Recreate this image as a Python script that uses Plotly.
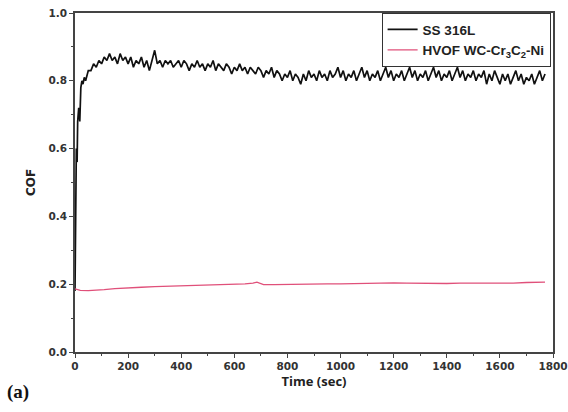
import plotly.graph_objects as go

# SS 316L COF vs time (sec)
ss_time = [0, 2, 5, 8, 10, 14, 18, 22, 26, 30, 35, 40, 50] + list(range(60, 1771, 10))
ss_cof = [0.18, 0.55, 0.60, 0.56, 0.68, 0.72, 0.68, 0.78, 0.80, 0.79, 0.81, 0.80, 0.83,
          0.83, 0.85, 0.84, 0.86, 0.85, 0.87, 0.86, 0.88, 0.86, 0.87, 0.85, 0.88, 0.86, 0.87, 0.85,
          0.87, 0.84, 0.86, 0.85, 0.87, 0.84, 0.86, 0.83, 0.86, 0.89, 0.85, 0.86, 0.84, 0.86, 0.85,
          0.86, 0.84, 0.85, 0.86, 0.84, 0.86, 0.85, 0.83, 0.85, 0.84, 0.86, 0.84, 0.85, 0.83, 0.85,
          0.84, 0.86, 0.83, 0.85, 0.84, 0.83, 0.85, 0.84, 0.82, 0.84, 0.83, 0.85, 0.83, 0.84, 0.82,
          0.84, 0.83, 0.82, 0.84, 0.83, 0.81, 0.83, 0.82, 0.84, 0.81, 0.83, 0.82, 0.80, 0.82, 0.81,
          0.83, 0.80, 0.82, 0.81, 0.79, 0.82, 0.80, 0.83, 0.81, 0.82, 0.80, 0.83, 0.81, 0.82, 0.80,
          0.83, 0.81, 0.82, 0.84, 0.81, 0.83, 0.80, 0.82, 0.81, 0.83, 0.80, 0.82, 0.84, 0.81, 0.83,
          0.80, 0.82, 0.81, 0.83, 0.80, 0.82, 0.84, 0.81, 0.83, 0.80, 0.82, 0.81, 0.83, 0.80, 0.82,
          0.84, 0.81, 0.83, 0.80, 0.82, 0.81, 0.83, 0.80, 0.82, 0.84, 0.81, 0.83, 0.80, 0.82, 0.81,
          0.83, 0.80, 0.82, 0.84, 0.81, 0.83, 0.80, 0.82, 0.81, 0.83, 0.80, 0.82, 0.81, 0.83, 0.79,
          0.82, 0.80, 0.83, 0.81, 0.79, 0.82, 0.80, 0.82, 0.79, 0.81, 0.83, 0.80, 0.82, 0.79, 0.81,
          0.80, 0.82, 0.79, 0.81, 0.83, 0.80, 0.82]

# HVOF WC-Cr3C2-Ni COF vs time (sec)
hv_time = [0, 20, 50, 80, 110, 150, 200, 250, 300, 350, 400, 450, 500, 550, 600, 640, 670,
           685, 695, 710, 750, 800, 850, 900, 950, 1000, 1050, 1100, 1150, 1200, 1250, 1300,
           1350, 1400, 1450, 1500, 1550, 1600, 1650, 1700, 1770]
hv_cof = [0.186, 0.182, 0.181, 0.182, 0.184, 0.187, 0.190, 0.191, 0.193, 0.194, 0.195, 0.196,
          0.197, 0.199, 0.200, 0.201, 0.203, 0.206, 0.203, 0.199, 0.199, 0.200, 0.200, 0.201,
          0.201, 0.201, 0.202, 0.202, 0.203, 0.204, 0.203, 0.202, 0.201, 0.202, 0.203, 0.203,
          0.202, 0.201, 0.203, 0.205, 0.206]

x_ticks = [0, 200, 400, 600, 800, 1000, 1200, 1400, 1600, 1800]
y_ticks = [0.0, 0.2, 0.4, 0.6, 0.8, 1.0]

fig = go.Figure()
fig.add_trace(go.Scatter(x=ss_time, y=ss_cof, mode="lines", name="SS 316L",
                         line=dict(color="#111111", width=1.7)))
fig.add_trace(go.Scatter(x=hv_time, y=hv_cof, mode="lines",
                         name="HVOF WC-Cr<sub>3</sub>C<sub>2</sub>-Ni",
                         line=dict(color="#e0507a", width=1.3)))

tickfont = dict(family="DejaVu Sans", size=10.5, color="#333333", weight="bold")
axis_common = dict(showline=True, linecolor="#444444", linewidth=1.5, mirror=True,
                   ticks="outside", ticklen=4, tickwidth=1.2, tickcolor="#444444",
                   showgrid=False, zeroline=False, tickfont=tickfont, automargin=False,
                   ticklabeloverflow="allow")

fig.update_layout(
    width=568, height=412,
    margin=dict(l=75, r=15, t=13, b=60),
    plot_bgcolor="white", paper_bgcolor="white",
    xaxis=dict(range=[0, 1800], tickvals=x_ticks, ticktext=[str(v) for v in x_ticks],
               minor=dict(ticks="outside", dtick=100, ticklen=2, tickcolor="#444444"),
               title=dict(text="Time (sec)", standoff=6,
                          font=dict(family="Open Sans", size=13, color="#222222", weight="bold")),
               **axis_common),
    yaxis=dict(range=[0, 1.0], tickvals=y_ticks, ticktext=["%.1f" % v for v in y_ticks],
               minor=dict(ticks="outside", dtick=0.1, ticklen=2, tickcolor="#444444"),
               title=dict(text="COF", standoff=10,
                          font=dict(family="DejaVu Sans", size=12, color="#222222", weight="bold")),
               **axis_common),
    legend=dict(x=0.995, y=1.0, xanchor="right", yanchor="top",
                bgcolor="white", bordercolor="#333333", borderwidth=1,
                font=dict(family="Liberation Sans", size=13.5, color="#222222", weight="bold"),
                tracegroupgap=0, itemwidth=30),
    showlegend=True,
)
fig.add_annotation(text="(a)", xref="paper", yref="paper", x=-0.146, y=-0.118,
                   xanchor="left", yanchor="middle", showarrow=False,
                   font=dict(family="Liberation Serif", size=19, color="#111111", weight="bold"))

# remove the default page margin so the 568x412 figure fills the window exactly
fig.write_html("out.html", config={"displayModeBar": False},
               post_script="document.body.style.margin='0';document.body.style.overflow='hidden';")
